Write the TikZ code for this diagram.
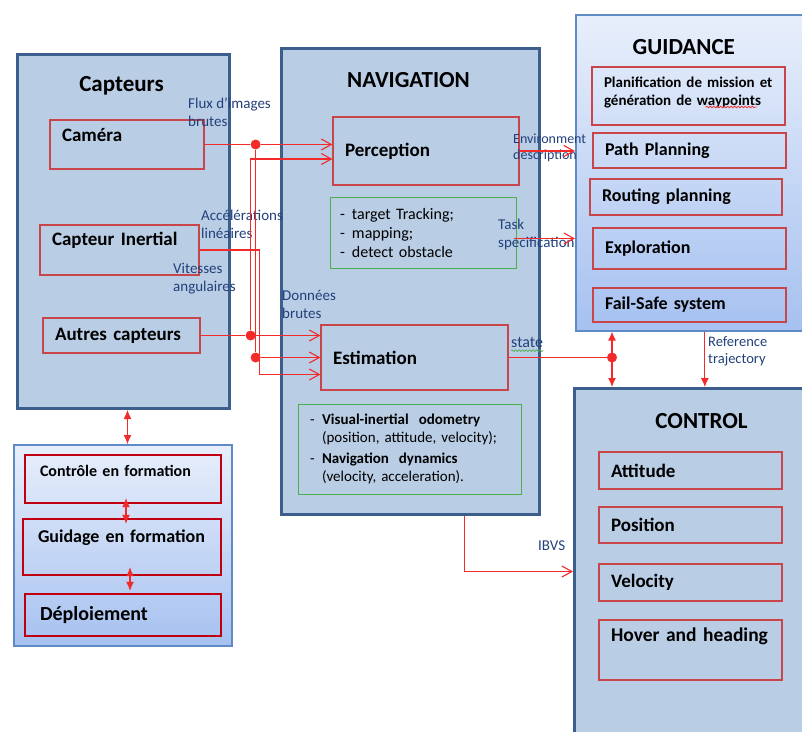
\documentclass[tikz,border=0pt]{standalone}
\usepackage{fontspec}
\setmainfont{Carlito}
\usetikzlibrary{arrows.meta,decorations.pathmorphing}
\definecolor{blocfill}{HTML}{B9CDE5}
\definecolor{blocborder}{HTML}{3B5E8C}
\definecolor{clairborder}{HTML}{5E8BC6}
\definecolor{degradehaut}{HTML}{E8EFFB}
\definecolor{degradebas}{HTML}{A6C1F0}
\definecolor{modulered}{HTML}{C8464A}
\definecolor{formred}{HTML}{C00010}
\definecolor{listgreen}{HTML}{4DB04D}
\definecolor{etiqblue}{HTML}{22407A}
\definecolor{filred}{HTML}{F22A2A}
\newcommand\puce{\makebox[12pt][l]{-}}

\begin{document}
\begin{tikzpicture}[x=1pt, y=-1pt]
    \tikzstyle{bloc} = [rectangle, draw=blocborder, line width=3pt, fill=blocfill, anchor=north west]
    \tikzstyle{blocclair} = [rectangle, draw=clairborder, line width=1.6pt, top color=degradehaut,
                             bottom color=degradebas, anchor=north west]
    \tikzstyle{titre} = [font=\fontsize{23}{28}\selectfont\bfseries]
    \tikzstyle{module} = [rectangle, draw=modulered, line width=1.2pt, inner xsep=12pt, inner ysep=2pt,
                          align=left, font=\fontsize{19}{23}\selectfont\bfseries]
    \tikzstyle{modform} = [module, draw=formred, line width=2.4pt, inner xsep=15pt]
    \tikzstyle{liste} = [rectangle, draw=listgreen, line width=1pt, inner xsep=10pt, align=left]
    \tikzstyle{etiquette} = [anchor=north west, inner sep=0pt, align=left, text=etiqblue,
                             font=\fontsize{15}{18}\selectfont]
    \tikzstyle{fil} = [draw=filred, line width=1.1pt]
    \tikzstyle{entree} = [fil, -{Straight Barb[length=10pt,width=11pt]}]
    \tikzstyle{sortie} = [fil, -{Latex[length=9pt,width=8pt]}]
    \tikzstyle{echange} = [fil, {Latex[length=9pt,width=8pt]}-{Latex[length=9pt,width=8pt]}]
    \tikzstyle{jonction} = [circle, fill=filred, inner sep=0pt, minimum size=10pt]
  \useasboundingbox (0,0) rectangle (802,731);
  % capteurs
  \node[bloc, minimum width=212pt, minimum height=354pt] (capteurs) at (16,53) {};
  \node[titre, xshift=-2pt, yshift=-33pt] (tcapteurs) at (capteurs.north) {Capteurs};
  \node[module, text width=130pt, minimum height=49pt, text depth=19pt] (camera) at (127,144.5) {Caméra};
  \node[module, below of=camera, node distance=105.5pt, xshift=-7.5pt, text width=135pt,
        minimum height=50pt, text depth=23pt] (inertiel) {Capteur Inertial};
  \node[module, below of=inertiel, node distance=85.5pt, xshift=2pt, text width=133pt,
        minimum height=35pt] (autres) {Autres capteurs};
  % navigation
  \node[bloc, minimum width=258pt, minimum height=466pt] (navigation) at (280,47) {};
  \node[titre, xshift=-2pt, yshift=-33pt] (tnavigation) at (navigation.north) {NAVIGATION};
  \node[module, text width=162pt, minimum height=68pt] (perception) at (426,151) {Perception};
  \node[liste, below of=perception, node distance=81.5pt, xshift=-3pt, text width=166pt,
        minimum height=71pt, font=\fontsize{16}{19}\selectfont] (taches)
        {\puce target Tracking;\\ \puce mapping;\\ \puce detect obstacle};
  \node[module, below of=taches, node distance=125pt, xshift=-8.5pt, text width=163pt,
        minimum height=65pt] (estimation) {Estimation};
  \node[liste, below of=estimation, node distance=91.5pt, xshift=-5pt, inner xsep=12pt, text width=199pt,
        minimum height=90pt, font=\fontsize{15}{18.5}\selectfont] (odometrie)
        {\puce\textbf{Visual-inertial\ \ odometry}\\ \hspace*{12pt}(position, attitude, velocity);\\[2pt]
         \puce\textbf{Navigation\ \ dynamics}\\ \hspace*{12pt}(velocity, acceleration).};
  % guidance
  \node[blocclair, minimum width=231pt, minimum height=316pt] (guidance) at (575,14) {};
  \node[titre, xshift=-7.5pt, yshift=-33pt] (tguidance) at (guidance.north) {GUIDANCE};
  \node[module, font=\fontsize{15}{18}\selectfont\bfseries, text width=169pt, minimum height=58pt,
        text depth=28pt] (planif) at (688.5,96) {Planification de mission et\\génération de waypoints};
  \node[module, below of=planif, node distance=54.5pt, xshift=1pt, text width=169pt, minimum height=35pt,
        font=\fontsize{18}{22}\selectfont\bfseries] (path) {Path Planning};
  \node[module, below of=path, node distance=46.5pt, xshift=-3.5pt, text width=168pt, minimum height=36pt,
        font=\fontsize{18}{22}\selectfont\bfseries] (routing) {Routing planning};
  \node[module, below of=routing, node distance=51.5pt, xshift=3.5pt, text width=169pt, minimum height=41pt,
        font=\fontsize{18}{22}\selectfont\bfseries] (exploration) {Exploration};
  \node[module, below of=exploration, node distance=56.5pt, text width=169pt, minimum height=34pt,
        font=\fontsize{18}{22}\selectfont\bfseries] (failsafe) {Fail-Safe system};
  % control
  \node[bloc, minimum width=233pt, minimum height=360pt] (control) at (573,387) {};
  \node[titre, xshift=10.5pt, yshift=-34pt] (tcontrol) at (control.north) {CONTROL};
  \node[module, text width=159pt, minimum height=37pt] (attitude) at (690.5,470.5) {Attitude};
  \node[module, below of=attitude, node distance=54.5pt, text width=159pt, minimum height=36pt] (position) {Position};
  \node[module, below of=position, node distance=57.5pt, text width=159pt, minimum height=37pt] (velocity) {Velocity};
  \node[module, below of=velocity, node distance=67.5pt, text width=159pt, minimum height=60pt,
        text depth=31pt, font=\fontsize{19.5}{23}\selectfont\bfseries] (hover) {Hover and heading};
  % formation
  \node[blocclair, minimum width=218pt, minimum height=201pt] (formation) at (13,444) {};
  \node[modform, text width=166pt, minimum height=48pt, text depth=17pt,
        font=\fontsize{16}{20}\selectfont\bfseries] (controle) at (123,479) {Contrôle en formation};
  \node[modform, below of=controle, node distance=68pt, xshift=-1pt, text width=168pt, minimum height=56pt,
        text depth=21pt, font=\fontsize{18}{22}\selectfont\bfseries] (guidage) {Guidage en formation};
  \node[modform, below of=guidage, node distance=68pt, xshift=1pt, text width=166pt, minimum height=42pt,
        font=\fontsize{20}{24}\selectfont\bfseries] (deploiement) {Déploiement};
  % etiquettes
  \node[etiquette] (flux) at (188,98) {Flux d’images\\brutes};
  \node[etiquette] (accel) at (201,210) {Accélérations\\linéaires};
  \node[etiquette] (vitesses) at (173,263) {Vitesses\\angulaires};
  \node[etiquette] (donnees) at (282,290) {Données\\brutes};
  \node[etiquette, font=\fontsize{14}{16}\selectfont] (envdesc) at (513,134) {Environment\\description};
  \node[etiquette] (taskspec) at (498,219) {Task\\specification};
  \node[etiquette, font=\fontsize{16}{18}\selectfont] (etat) at (511,337) {state};
  \node[etiquette, font=\fontsize{14.5}{17}\selectfont] (reftraj) at (708,336) {Reference\\trajectory};
  \node[etiquette] (ibvs) at (538,541) {IBVS};
  \draw[listgreen, line width=0.7pt, decorate, decoration={snake, amplitude=0.8pt, segment length=3.5pt}]
    ([yshift=-3pt]etat.south west) -- ([yshift=-3pt]etat.south east);
  \draw[filred, line width=0.7pt, decorate, decoration={snake, amplitude=0.8pt, segment length=3.5pt}]
    ([xshift=-80pt,yshift=-11pt]planif.east) -- ([xshift=-29pt,yshift=-11pt]planif.east);
  % jonctions
  \node[jonction] (j1) at ([xshift=51pt]camera.east) {};
  \node[jonction] (j2) at ([xshift=50pt]autres.east) {};
  \node[jonction] (j3) at (j1 |- estimation.west) {};
  \node[jonction] (j4) at (612,357.5) {};
  % liaisons
  \draw[entree] (camera.east) -- (j1) -- (j1 -| perception.west);
  \draw[fil] (j1) -- (j3);
  \draw[entree] (j3) -- (j3 -| estimation.west);
  \draw[entree] (autres.east) -- (j2) -- (j2 -| estimation.west);
  \draw[entree] (j2) |- ([yshift=-8pt]perception.west);
  \draw[entree] (inertiel.east) -- ++(60pt,0) |- ([yshift=-17pt]estimation.west);
  \draw[entree] (perception.east) -- (perception.east -| guidance.west);
  \draw[entree] ([xshift=-3pt,yshift=-6pt]taches.east) -- ([yshift=-6pt]taches.east -| guidance.west);
  \draw[fil] (estimation.east) -- (j4);
  \draw[echange] (j4 |- guidance.south) -- (j4 |- control.north);
  \draw[sortie] ([xshift=13.5pt]guidance.south) -- ([xshift=13.5pt]guidance.south |- control.north);
  \draw[entree] ([xshift=54pt]navigation.south) |- ([yshift=-3pt]control.west);
  \draw[echange] ([xshift=4pt]capteurs.south) -- ([xshift=4pt]capteurs.south |- formation.north);
  \draw[echange] ([xshift=3pt,yshift=6pt]controle.south) -- ([xshift=3pt,yshift=-6pt]controle.south |- guidage.north);
  \draw[echange] ([xshift=8pt,yshift=9pt]guidage.south) -- ([xshift=8pt,yshift=2pt]guidage.south |- deploiement.north);
\end{tikzpicture}
\end{document}
